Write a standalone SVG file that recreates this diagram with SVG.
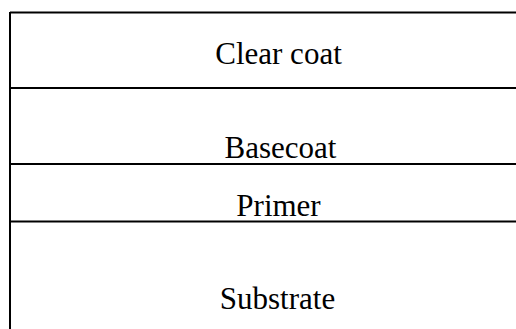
<svg xmlns="http://www.w3.org/2000/svg" width="516" height="329" viewBox="0 0 516 329">
  <style>
    .edge { stroke: #000; stroke-width: 2; fill: none; }
    .label { font-family: "Liberation Serif", "Times New Roman", serif; font-size: 31px; fill: #000; text-anchor: middle; }
  </style>
  <rect width="516" height="329" fill="#fff"/>
  <!-- layer boundaries -->
  <g id="connectors">
    <line class="edge" x1="10" y1="12.5" x2="516" y2="12.5"/>
    <line class="edge" x1="10" y1="12" x2="10" y2="329"/>
    <line class="edge" x1="10" y1="88" x2="516" y2="88"/>
    <line class="edge" x1="10" y1="164" x2="516" y2="164"/>
    <line class="edge" x1="10" y1="221.5" x2="516" y2="221.5"/>
  </g>
  <g id="clear-coat">
    <text class="label" x="278.5" y="63.5">Clear coat</text>
  </g>
  <g id="basecoat">
    <text class="label" x="280.5" y="158">Basecoat</text>
  </g>
  <g id="primer">
    <text class="label" x="278.5" y="216">Primer</text>
  </g>
  <g id="substrate">
    <text class="label" x="277.5" y="308.5">Substrate</text>
  </g>
</svg>
